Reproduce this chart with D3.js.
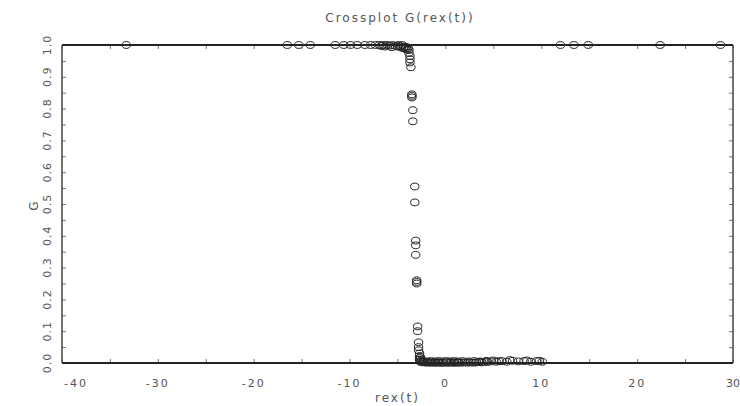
<!DOCTYPE html>
<html>
<head>
<meta charset="utf-8">
<script src="https://cdn.jsdelivr.net/npm/d3@7"></script>
<style>
  body { margin: 0; background: #fff; }
  svg text { font-family: "DejaVu Sans", sans-serif; fill: #555; }
</style>
</head>
<body>
<svg id="chart" width="740" height="406"></svg>
<script>
// axis ticks
const X_TICKS = [-40, -30, -20, -10, 0, 10, 20, 30];
const Y_TICKS = [0.0, 0.1, 0.2, 0.3, 0.4, 0.5, 0.6, 0.7, 0.8, 0.9, 1.0];

// points sitting on G = 1
const topX = [-33.3, -16.5, -15.3, -14.1, -11.5, -10.6, -9.9, -9.2, -8.4, -7.8, -7.3,
  -6.9, -6.5, -6.1, -5.8, -5.5, -5.2, -4.9, -4.7, -4.5, -4.3, -4.1, -3.9,
  -6.7, -6.3, -5.6, -5.0, -4.6, -4.4, -4.2, -4.0,
  12.0, 13.4, 14.9, 22.4, 28.7];
const topG = [1, 1, 1, 1, 1, 1, 1, 1, 1, 1, 1,
  1, 1, 1, 0.998, 1, 0.997, 1, 0.996, 1, 0.995, 0.994, 0.99,
  0.997, 0.995, 0.993, 0.995, 0.992, 0.99, 0.988, 0.985,
  1, 1, 1, 1, 1];

// transition column
const colX = [-3.8, -3.8, -3.7, -3.7, -3.7, -3.6, -3.5, -3.5, -3.5, -3.4, -3.4,
  -3.2, -3.2, -3.1, -3.1, -3.1, -3.0, -3.0, -3.0, -2.9, -2.9,
  -2.8, -2.8, -2.8, -2.7, -2.7, -2.7, -2.7, -2.6, -2.6, -2.5];
const colG = [0.985, 0.975, 0.965, 0.955, 0.945, 0.93, 0.845, 0.84, 0.835, 0.795, 0.76,
  0.555, 0.505, 0.385, 0.37, 0.34, 0.26, 0.255, 0.25, 0.115, 0.10,
  0.065, 0.05, 0.04, 0.03, 0.022, 0.015, 0.01, 0.005, 0.018, 0.008];

// points sitting on G = 0
const lowX = [-2.6, -2.4, -2.2, -2.0, -1.8, -1.6, -1.4, -1.2, -1.0, -0.8, -0.6, -0.4,
  -0.2, 0.0, 0.2, 0.4, 0.6, 0.8, 1.0, 1.2, 1.4, 1.7, 2.0, 2.3, 2.6, 2.9, 3.2, 3.5,
  3.8, 4.1, 4.4, 4.8, 5.3, 5.9, 6.4, 7.0, 7.6, 8.2, 8.9, 9.5, 10.1,
  -2.3, -1.9, -1.5, -1.1, -0.7, -0.3, 0.1, 0.5, 0.9, 1.3, 1.8, 2.4, 3.0, 3.6, 4.3, 5.0, 5.6, 6.7, 8.5, 9.8];
const lowG = [0.004, 0.002, 0.003, 0.001, 0.002, 0.001, 0.002, 0.001, 0.001, 0.002, 0.001, 0.001,
  0.001, 0.002, 0.001, 0.001, 0.002, 0.001, 0.001, 0.002, 0.001, 0.001, 0.002, 0.001, 0.002, 0.001, 0.002, 0.003,
  0.002, 0.004, 0.003, 0.005, 0.004, 0.006, 0.004, 0.007, 0.005, 0.006, 0.004, 0.006, 0.004,
  0.006, 0.005, 0.006, 0.005, 0.006, 0.005, 0.006, 0.005, 0.006, 0.005, 0.006, 0.005, 0.006, 0.005, 0.007, 0.008, 0.006, 0.009, 0.008, 0.007];

const points = [];
[[topX, topG], [colX, colG], [lowX, lowG]].forEach(([xs, gs]) => {
  xs.forEach((v, i) => points.push({ x: v, g: gs[i] }));
});

const svg = d3.select("#chart");
const mLeft = 62, mRight = 733, mTop = 45, mBottom = 363;

const x = d3.scaleLinear().domain([-40, 30]).range([mLeft, mRight]);
const y = d3.scaleLinear().domain([0, 1]).range([mBottom, mTop]);

// title
svg.append("text")
  .attr("x", 400).attr("y", 22)
  .attr("text-anchor", "middle")
  .style("font-size", "12px")
  .style("letter-spacing", "2px")
  .text("Crossplot G(rex(t))");

// points (drawn under the frame)
svg.append("g")
  .selectAll("ellipse")
  .data(points)
  .enter()
  .append("ellipse")
  .attr("cx", d => x(d.x))
  .attr("cy", d => y(d.g))
  .attr("rx", 4.2)
  .attr("ry", 3.4)
  .attr("fill", "none")
  .attr("stroke", "#222")
  .attr("stroke-width", 1);

// ticks, all pointing inward
const minorX = d3.range(-40, 30.1, 5);
const minorY = d3.range(0, 1.001, 0.05);

svg.append("g")
  .attr("transform", "translate(0," + mBottom + ")")
  .call(d3.axisTop(x).tickValues(minorX).tickSize(4).tickFormat(""))
  .call(g => g.select(".domain").remove());
svg.append("g")
  .attr("transform", "translate(0," + mTop + ")")
  .call(d3.axisBottom(x).tickValues(minorX).tickSize(4).tickFormat(""))
  .call(g => g.select(".domain").remove());
svg.append("g")
  .attr("transform", "translate(" + mLeft + ",0)")
  .call(d3.axisRight(y).tickValues(minorY).tickSize(4).tickFormat(""))
  .call(g => g.select(".domain").remove());
svg.append("g")
  .attr("transform", "translate(" + mRight + ",0)")
  .call(d3.axisLeft(y).tickValues(minorY).tickSize(4).tickFormat(""))
  .call(g => g.select(".domain").remove());
svg.selectAll(".tick line").attr("stroke", "#777");

// frame
svg.append("line").attr("x1", mLeft).attr("x2", mRight).attr("y1", mTop).attr("y2", mTop)
  .attr("stroke", "#222").attr("stroke-width", 2);
svg.append("line").attr("x1", mLeft).attr("x2", mRight).attr("y1", mBottom).attr("y2", mBottom)
  .attr("stroke", "#222").attr("stroke-width", 2);
svg.append("line").attr("x1", mLeft).attr("x2", mLeft).attr("y1", mTop).attr("y2", mBottom)
  .attr("stroke", "#444").attr("stroke-width", 1.5);
svg.append("line").attr("x1", mRight).attr("x2", mRight).attr("y1", mTop).attr("y2", mBottom)
  .attr("stroke", "#444").attr("stroke-width", 1.5);

// x tick labels (end ones pushed inside the picture)
svg.append("g")
  .selectAll("text")
  .data(X_TICKS)
  .enter()
  .append("text")
  .attr("x", d => d === -40 ? x(d) + 2 : d === 30 ? 740 : x(d))
  .attr("y", 387)
  .attr("text-anchor", d => d === -40 ? "start" : d === 30 ? "end" : "middle")
  .style("font-size", "11px")
  .style("letter-spacing", d => d === 30 ? "0px" : "2px")
  .text(d => d);

// y tick labels, rotated
svg.append("g")
  .selectAll("text")
  .data(Y_TICKS)
  .enter()
  .append("text")
  .attr("transform", d => "translate(51," + y(d) + ") rotate(-90)")
  .attr("text-anchor", "middle")
  .style("font-size", "11px")
  .style("letter-spacing", "1px")
  .text(d => d3.format(".1f")(d));

// axis titles
svg.append("text")
  .attr("x", (mLeft + mRight) / 2).attr("y", 402)
  .attr("text-anchor", "middle")
  .style("font-size", "12px")
  .style("letter-spacing", "2px")
  .text("rex(t)");

svg.append("text")
  .attr("transform", "translate(38,206) rotate(-90)")
  .attr("text-anchor", "middle")
  .style("font-size", "12px")
  .text("G");
</script>
</body>
</html>
